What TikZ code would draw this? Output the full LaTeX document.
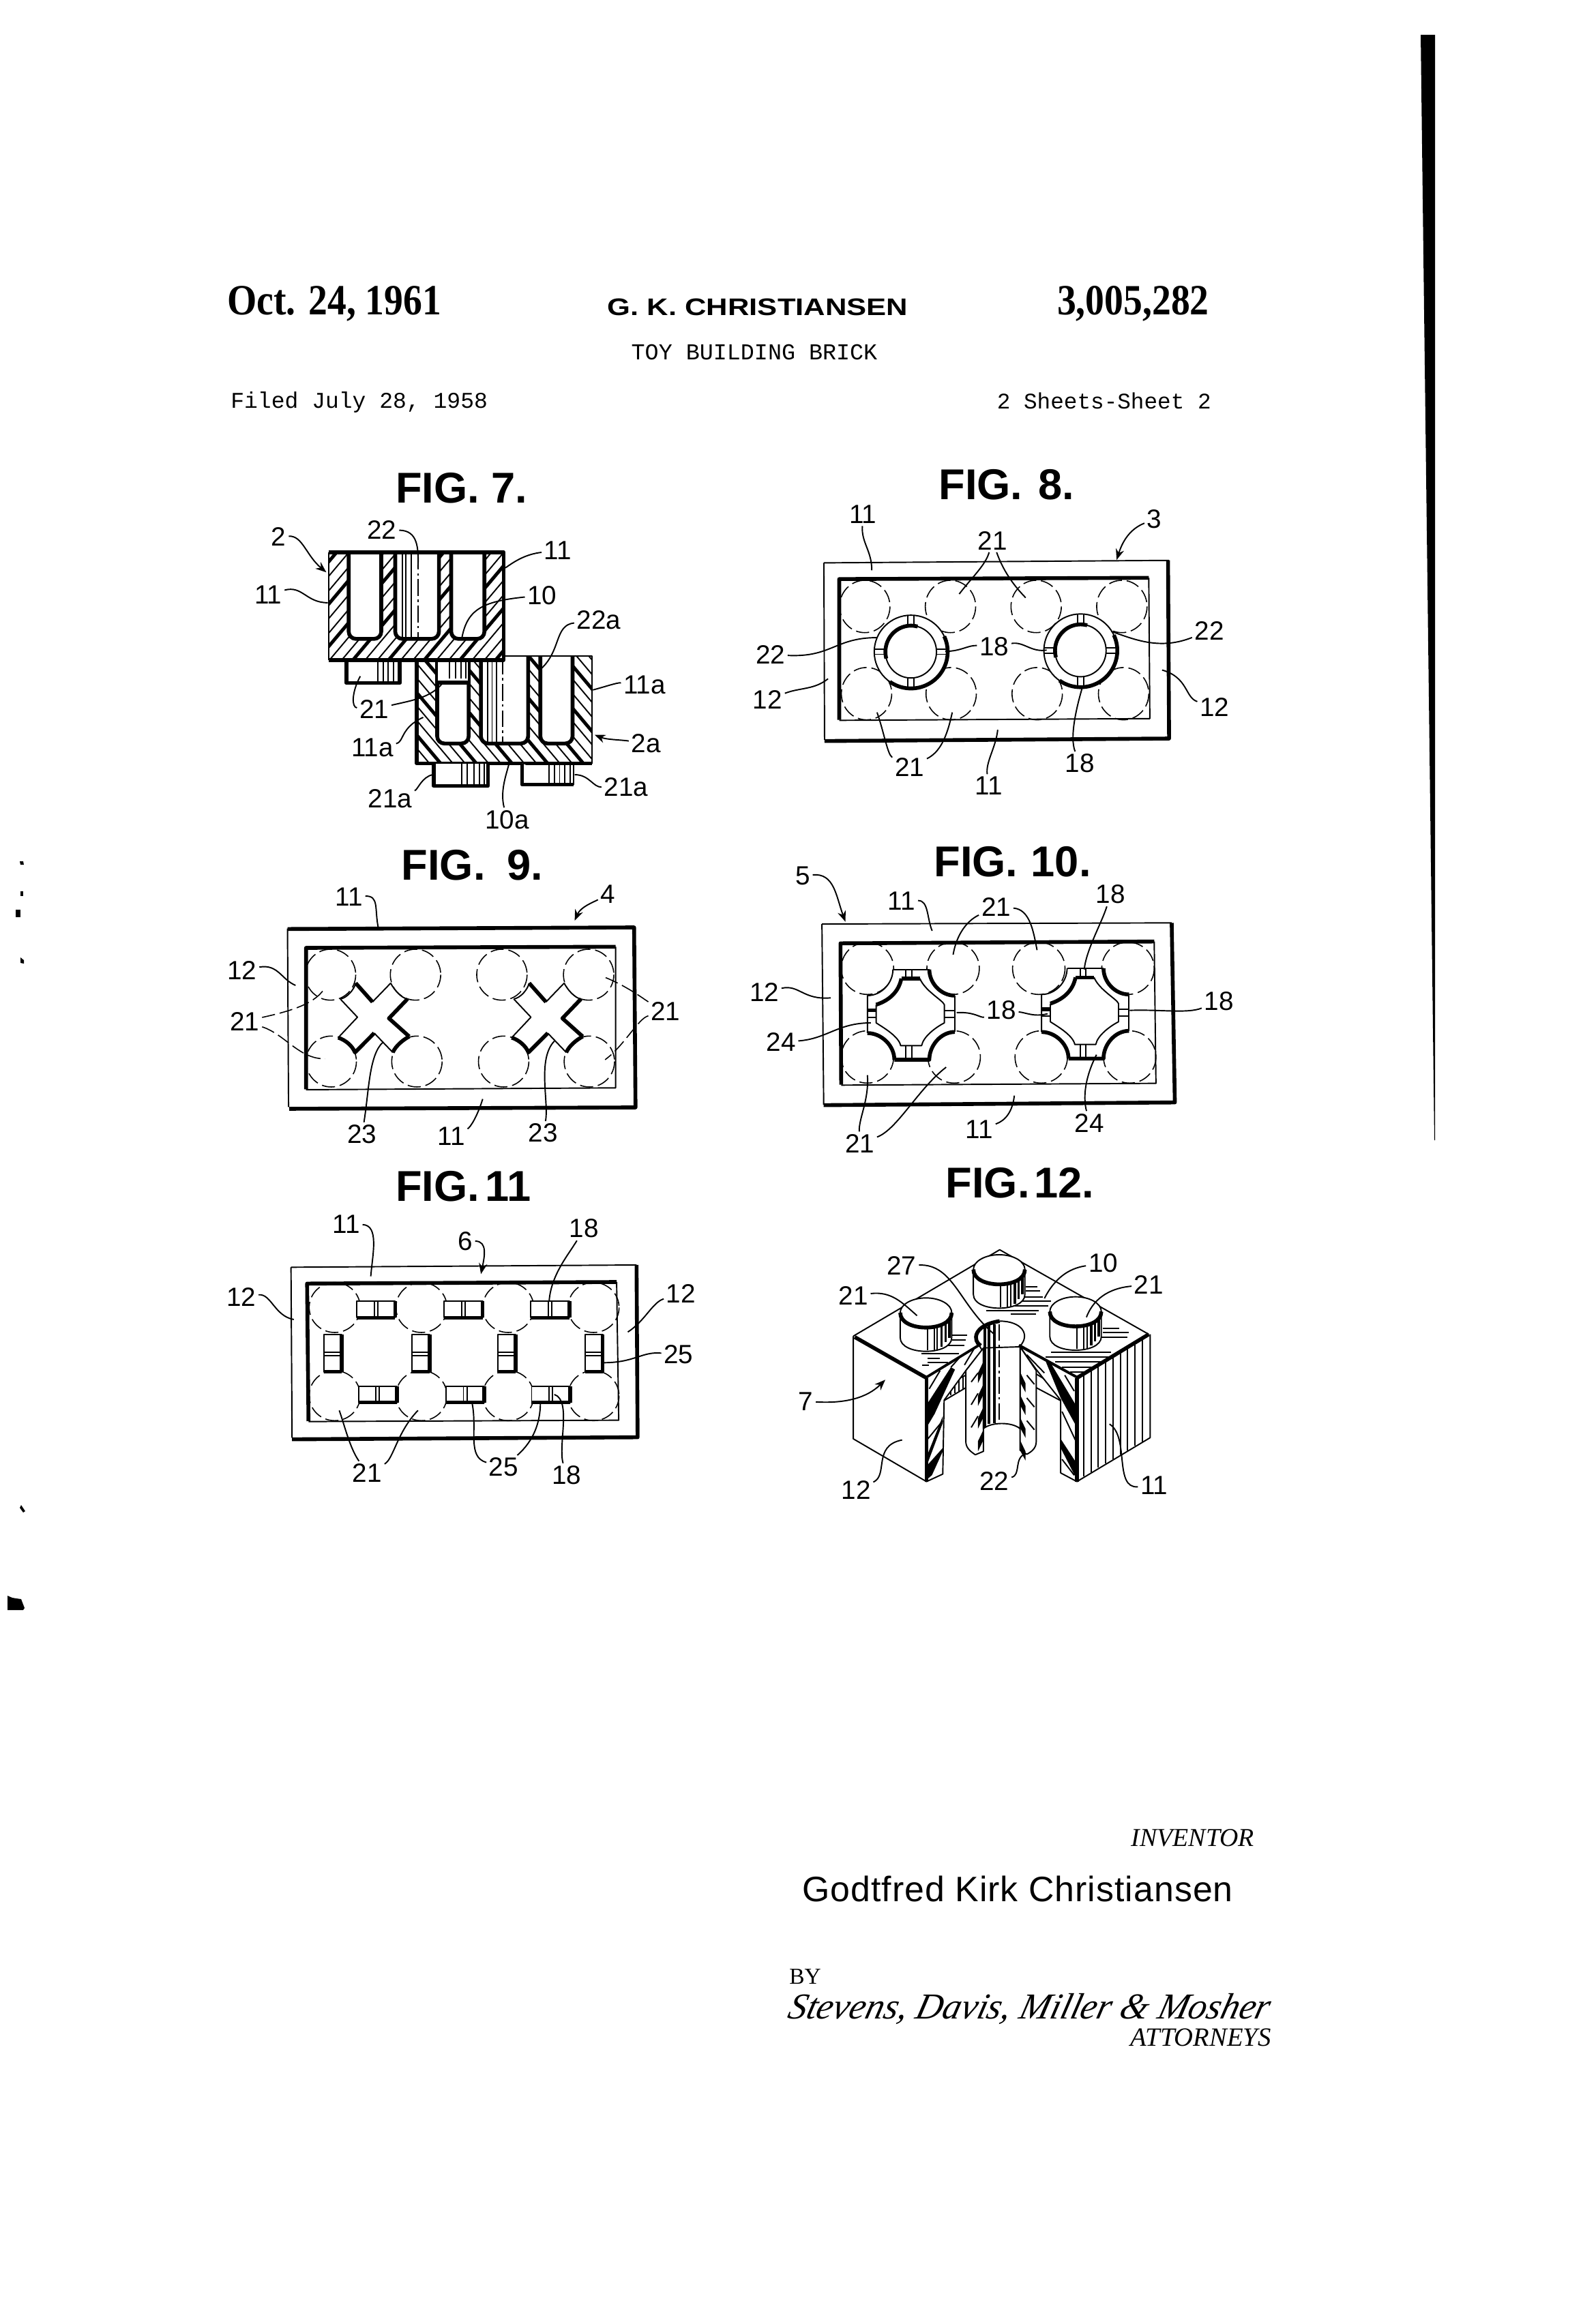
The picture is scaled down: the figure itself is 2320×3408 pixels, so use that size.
\documentclass[tikz,border=0pt]{standalone}
\usepackage{fontspec}
\setmainfont{Liberation Sans}
\newfontfamily\serifhead[BoldFeatures={FakeStretch=0.88}]{Liberation Serif}
\newfontfamily\wideh[BoldFeatures={FakeStretch=1.24}]{Liberation Sans}
\newfontfamily\namefont[LetterSpace=2]{Liberation Sans}
\newfontfamily\typewr{Liberation Mono}
\newfontfamily\signfont[ItalicFeatures={FakeSlant=0.25}]{Liberation Serif}
\usetikzlibrary{arrows.meta}
\tikzset{
  thinl/.style={line width=1.1pt},
  heavyl/.style={line width=3.2pt},
  dashl/.style={line width=0.9pt,dash pattern=on 11pt off 4pt},
  leadl/.style={line width=1.1pt},
  headl/.style={leadl,-{Stealth[length=9pt,width=7pt]}},
  lab/.style={font=\fontsize{22}{22}\selectfont,inner sep=2pt},
  figt/.style={font=\bfseries\fontsize{36}{36}\selectfont,inner sep=0pt},
}
\begin{document}
\begin{tikzpicture}[x=0.02cm,y=-0.02cm,line join=round]
\useasboundingbox (0,0) rectangle (2320,3408);
\fill (2083,51) -- (2104,51) -- (2104,1672) -- (2103,1672) -- cycle;
\fill (11,2340) -- (11,2361) -- (34,2361) -- (36,2358) -- (31,2345) -- (24,2344) -- (18,2343) -- cycle;
\fill (23,1334) -- (30,1334) -- (30,1345) -- (23,1345) -- cycle;
\fill (30,1307) -- (34,1307) -- (34,1314) -- (30,1314) -- cycle;
\fill (29,1263) -- (34,1263) -- (35,1268) -- (30,1268) -- cycle;
\fill (30,1404) -- (35,1408) -- (35,1413) -- (30,1412) -- cycle;
\fill (31,2207) -- (37,2216) -- (34,2218) -- (29,2211) -- cycle;
\node[inner sep=0pt,anchor=west,font=\serifhead\bfseries\fontsize{36}{36}\selectfont] (date) at (333,445) {Oct. 24, 1961};
\node[inner sep=0pt,anchor=east,font=\serifhead\bfseries\fontsize{36}{36}\selectfont] (patno) at (1773,445) {3,005,282};
\node[inner sep=0pt,font=\wideh\bfseries\fontsize{20}{20}\selectfont] (inv) at (1111,450) {G. K. CHRISTIANSEN};
\node[inner sep=0pt,font=\typewr\fontsize{19}{19}\selectfont] (title) at (1106,516) {TOY BUILDING BRICK};
\node[inner sep=0pt,anchor=west,font=\typewr\fontsize{18.8}{18.8}\selectfont] (filed) at (338,590) {Filed July 28, 1958};
\node[inner sep=0pt,anchor=east,font=\typewr\fontsize{18.6}{18.6}\selectfont] (sheets) at (1776,588) {2 Sheets-Sheet 2};
\node[inner sep=0pt,anchor=east,font=\serifhead\itshape\fontsize{21.5}{21.5}\selectfont] (invr) at (1839,2695) {INVENTOR};
\node[inner sep=0pt,font=\namefont\fontsize{29.5}{29.5}\selectfont] (name) at (1492,2770) {Godtfred Kirk Christiansen};
\node[inner sep=0pt,anchor=west,font=\signfont\fontsize{19}{19}\selectfont] (by) at (1157,2899) {BY};
\node[inner sep=0pt,font=\signfont\itshape\fontsize{30.5}{30.5}\selectfont] (firm) at (1506,2946) {Stevens, Davis, Miller \& Mosher};
\node[inner sep=0pt,anchor=east,font=\serifhead\itshape\fontsize{22}{22}\selectfont] (atty) at (1864,2988) {ATTORNEYS};

\begin{scope}[shift={(300,650)},xscale=0.5128,yscale=0.3654]
\node[figt] (fig7) at (735,180) {FIG. 7.};
\fill[white] (607,855) rectangle (1108,1285);
\begin{scope}
\clip (607,855) rectangle (1108,1285);
\foreach \c in {-300,-198,...,520} {
\draw[line width=2.8pt] ({\c+0.6*855},855) -- ({\c+0.6*1285},1285);
\draw[thinl] ({\c+35+0.6*855},855) -- ({\c+35+0.6*1285},1285);
\draw[thinl] ({\c+70+0.6*855},855) -- ({\c+70+0.6*1285},1285);
}
\end{scope}
\draw[heavyl] (607,870) -- (607,1285) -- (1108,1285);
\draw[thinl] (607,855) -- (1108,855) -- (1108,1285);
\draw[heavyl,fill=white,rounded corners=6pt] (665,855) -- (665,1205) -- (755,1205) -- (755,855);
\draw[heavyl,fill=white,rounded corners=6pt] (960,855) -- (960,1205) -- (1052,1205) -- (1052,855);
\draw[heavyl,fill=white,rounded corners=6pt] (790,855) -- (790,1205) -- (925,1205) -- (925,855);
\draw[thinl] (665,855) -- (755,855) (790,855) -- (925,855) (960,855) -- (1052,855);
\foreach \x in {810,822,835} { \draw[thinl] (\x,860) -- (\x,1200); }
\draw[thinl,dash pattern=on 14pt off 3pt on 2pt off 3pt] (852,860) -- (852,1200);
\draw[heavyl,fill=white] (405,870) rectangle (558,962);
\foreach \x in {495,510,525,540} { \draw[thinl] (\x,872) -- (\x,960); }
\draw[thinl,fill=white] (665,870) rectangle (755,960);
\draw[heavyl] (665,960) -- (755,960);
\foreach \x in {700,718,733,746} { \draw[thinl] (\x,872) -- (\x,945); }
\fill[white] (355,437) rectangle (855,870);
\begin{scope}
\clip (355,437) rectangle (855,870);
\foreach \c in {640,742,...,1400} {
\draw[line width=2.8pt] ({\c-0.6*437},437) -- ({\c-0.6*870},870);
\draw[thinl] ({\c+35-0.6*437},437) -- ({\c+35-0.6*870},870);
\draw[thinl] ({\c+70-0.6*437},437) -- ({\c+70-0.6*870},870);
}
\end{scope}
\draw[heavyl] (355,870) -- (855,870) -- (855,437) -- (355,437);
\draw[thinl] (355,437) -- (355,870);
\draw[heavyl,fill=white,rounded corners=6pt] (412,437) -- (412,785) -- (505,785) -- (505,437);
\draw[heavyl,fill=white,rounded corners=6pt] (705,437) -- (705,785) -- (800,785) -- (800,437);
\draw[heavyl,fill=white,rounded corners=6pt] (545,437) -- (545,785) -- (670,785) -- (670,437);
\draw[heavyl] (355,437) -- (855,437);
\foreach \x in {565,575,590} { \draw[thinl] (\x,440) -- (\x,780); }
\draw[thinl,dash pattern=on 14pt off 3pt on 2pt off 3pt] (610,440) -- (610,780);
\draw[heavyl,fill=white] (655,1285) -- (655,1375) -- (810,1375) -- (810,1285);
\draw[heavyl,fill=white] (908,1285) -- (908,1370) -- (1055,1370);
\draw[thinl] (1055,1370) -- (1055,1285);
\foreach \x in {735,750,770,785,800} { \draw[thinl] (\x,1287) -- (\x,1370); }
\foreach \x in {985,1000,1015,1030,1045} { \draw[thinl] (\x,1287) -- (\x,1365); }
\node[lab] (a2) at (212,375) {2}; \coordinate (p2) at (348,518);
\draw[headl] (a2) .. controls (280,370) and (290,450) .. (p2);
\node[lab] (a22) at (507,348) {22}; \coordinate (p22) at (610,500);
\draw[leadl] (a22) .. controls (610,350) and (612,420) .. (p22);
\node[lab] (a11l) at (182,607) {11}; \coordinate (p11l) at (352,640);
\draw[leadl] (a11l) .. controls (280,570) and (290,640) .. (p11l);
\node[lab] (a11r) at (1010,430) {11}; \coordinate (p11r) at (860,500);
\draw[leadl] (a11r) .. controls (920,445) and (890,470) .. (p11r);
\node[lab] (a10) at (965,610) {10}; \coordinate (p10) at (735,785);
\draw[leadl] (a10) .. controls (790,635) and (750,670) .. (p10);
\node[lab] (a22a) at (1127,710) {22a}; \coordinate (p22a) at (962,905);
\draw[leadl] (a22a) .. controls (1000,730) and (1020,830) .. (p22a);
\node[lab] (a21) at (485,1067) {21}; \coordinate (p21a) at (685,955); \coordinate (p21b) at (445,935);
\draw[leadl] (a21) .. controls (600,1030) and (650,1020) .. (p21a);
\draw[leadl] (a21) .. controls (420,1060) and (420,1000) .. (p21b);
\node[lab] (a11a) at (480,1222) {11a}; \coordinate (p11a) at (625,1100);
\draw[leadl] (a11a) .. controls (570,1200) and (560,1140) .. (p11a);
\node[lab] (a11b) at (1258,970) {11a}; \coordinate (p11b) at (1110,990);
\draw[leadl] (a11b) .. controls (1180,960) and (1150,975) .. (p11b);
\node[lab] (a2a) at (1262,1205) {2a}; \coordinate (p2a) at (1115,1170);
\draw[headl] (a2a) .. controls (1190,1190) and (1150,1190) .. (p2a);
\node[lab] (a21l) at (530,1425) {21a}; \coordinate (p21l) at (652,1330);
\draw[leadl] (a21l) .. controls (610,1390) and (620,1340) .. (p21l);
\node[lab] (a21r) at (1205,1380) {21a}; \coordinate (p21r) at (1058,1330);
\draw[leadl] (a21r) .. controls (1110,1380) and (1100,1330) .. (p21r);
\node[lab] (a10a) at (865,1510) {10a}; \coordinate (p10a) at (870,1288);
\draw[leadl] (a10a) .. controls (845,1400) and (860,1340) .. (p10a);
\end{scope}

\begin{scope}[shift={(1050,650)},xscale=0.5128,yscale=0.3654]
\node[figt] (fig8) at (830,165) {FIG.\kern13pt 8.};
\foreach \cx/\cy in {425/655,670/655,915/655,1160/655,430/1005,672/1005,918/1005,1165/1005} {
\draw[dashl] (\cx,\cy) ellipse [x radius=72,y radius=105];
}
\draw[thinl] (308,480) -- (1295,470);
\draw[thinl] (308,480) -- (310,1190);
\draw[heavyl] (1292,470) -- (1295,1185) -- (310,1195);
\draw[heavyl] (352,1110) -- (352,545) -- (1237,540);
\draw[thinl] (352,1112) -- (1240,1105) -- (1237,540);
\foreach \cx/\cy in {557/837,1042/832} {
\begin{scope}[shift={(\cx,\cy)}]
\draw[thinl,fill=white] (0,0) ellipse [x radius=105,y radius=147];
\draw[thinl] (0,0) ellipse [x radius=73,y radius=105];
\draw[heavyl] plot[domain=-25:125,samples=40] ({105*cos(\x)},{147*sin(\x)});
\draw[heavyl] plot[domain=165:285,samples=40] ({73*cos(\x)},{105*sin(\x)});
\draw[thinl] (-9,-145) -- (-9,-105) (9,-145) -- (9,-105) (-9,105) -- (-9,145) (9,105) -- (9,145);
\draw[thinl] (-104,-10) -- (-72,-10) (-104,10) -- (-72,10) (72,-10) -- (104,-10) (72,10) -- (104,10);
\end{scope}
}
\node[lab] (b11) at (420,285) {11}; \coordinate (q11) at (445,510);
\draw[leadl] (b11) .. controls (415,400) and (445,430) .. (q11);
\node[lab] (b3) at (1253,305) {3}; \coordinate (q3) at (1145,468);
\draw[headl] (b3) .. controls (1190,340) and (1165,380) .. (q3);
\node[lab] (b21) at (790,390) {21}; \coordinate (q21a) at (695,605); \coordinate (q21b) at (885,620);
\draw[leadl] (b21) .. controls (770,490) and (730,540) .. (q21a);
\draw[leadl] (b21) .. controls (820,510) and (850,570) .. (q21b);
\node[lab] (b22l) at (155,848) {22}; \coordinate (q22l) at (460,780);
\draw[leadl] (b22l) .. controls (330,860) and (340,780) .. (q22l);
\node[lab] (b18) at (795,815) {18}; \coordinate (q18a) at (655,835); \coordinate (q18b) at (945,830);
\draw[leadl] (b18) .. controls (720,810) and (700,835) .. (q18a);
\draw[leadl] (b18) .. controls (880,795) and (900,840) .. (q18b);
\node[lab] (b22r) at (1410,752) {22}; \coordinate (q22r) at (1130,755);
\draw[leadl] (b22r) .. controls (1270,830) and (1200,790) .. (q22r);
\node[lab] (b12l) at (147,1030) {12}; \coordinate (q12l) at (320,945);
\draw[leadl] (b12l) .. controls (240,980) and (280,990) .. (q12l);
\node[lab] (b12r) at (1425,1060) {12}; \coordinate (q12r) at (1275,910);
\draw[leadl] (b12r) .. controls (1340,1020) and (1350,940) .. (q12r);
\node[lab] (b21b) at (553,1300) {21}; \coordinate (q21c) at (460,1080); \coordinate (q21d) at (675,1080);
\draw[leadl] (b21b) .. controls (490,1250) and (480,1160) .. (q21c);
\draw[leadl] (b21b) .. controls (640,1240) and (660,1180) .. (q21d);
\node[lab] (b18b) at (1040,1285) {18}; \coordinate (q18c) at (1048,975);
\draw[leadl] (b18b) .. controls (1010,1180) and (1030,1060) .. (q18c);
\node[lab] (b11b) at (780,1375) {11}; \coordinate (q11b) at (805,1150);
\draw[leadl] (b11b) .. controls (770,1280) and (800,1220) .. (q11b);
\end{scope}

\begin{scope}[shift={(300,1200)},xscale=0.5128,yscale=0.3333]
\node[figt] (fig9) at (765,205) {FIG.\kern18pt 9.};
\foreach \cx/\cy in {360/688,603/688,850/688,1098/688,362/1070,607/1070,855/1070,1100/1070} {
\draw[dashl] (\cx,\cy) ellipse [x radius=72,y radius=112];
}
\draw[thinl] (237,485) -- (240,1270);
\draw[heavyl] (237,487) -- (1228,480) -- (1232,1272) -- (242,1278);
\draw[heavyl] (290,1192) -- (290,570) -- (1175,565);
\draw[thinl] (290,1194) -- (1175,1186) -- (1175,565);
\foreach \cx/\cy in {482/880,978/880} {
\begin{scope}[shift={(\cx,\cy)}]
\path[fill=white] (-2,-72) -- (50,-155) .. controls (65,-125) and (80,-90) .. (98,-85) -- (45,0) -- (103,80) .. controls (85,95) and (65,120) .. (56,150) -- (3,65) -- (-52,150) .. controls (-60,120) and (-80,95) .. (-100,85) -- (-45,-5) -- (-94,-85) .. controls (-75,-90) and (-55,-125) .. (-50,-155) -- cycle;
\draw[heavyl] (98,-85) -- (45,0) -- (103,80);
\draw[heavyl] (-50,-155) -- (-2,-72);
\draw[thinl] (-2,-72) -- (50,-155);
\draw[thinl] (50,-155) .. controls (60,-125) and (80,-90) .. (98,-85);
\draw[thinl] (-94,-85) -- (-45,-5) -- (-100,85);
\draw[thinl] (-94,-85) .. controls (-75,-90) and (-55,-125) .. (-50,-155);
\draw[heavyl] (-100,85) .. controls (-80,95) and (-60,120) .. (-52,150) -- (3,65);
\draw[heavyl] (103,80) .. controls (85,95) and (65,120) .. (56,150);
\draw[thinl] (3,65) -- (56,150);
\end{scope}
}
\node[lab] (c11) at (413,345) {11}; \coordinate (r11) at (497,485);
\draw[leadl] (c11) .. controls (500,340) and (485,400) .. (r11);
\node[lab] (c4) at (1153,335) {4}; \coordinate (r4) at (1058,450);
\draw[headl] (c4) .. controls (1110,370) and (1075,390) .. (r4);
\node[lab] (c12) at (107,668) {12}; \coordinate (r12) at (260,735);
\draw[leadl] (c12) .. controls (210,640) and (220,710) .. (r12);
\node[lab] (c21l) at (115,893) {21}; \coordinate (r21a) at (340,755); \coordinate (r21b) at (345,1058);
\draw[dashl] (c21l) .. controls (240,850) and (310,820) .. (r21a);
\draw[dashl] (c21l) .. controls (230,950) and (270,1060) .. (r21b);
\node[lab] (c21r) at (1318,850) {21}; \coordinate (r21c) at (1145,700); \coordinate (r21d) at (1145,1062);
\draw[dashl] (c21r) .. controls (1260,800) and (1210,740) .. (r21c);
\draw[dashl] (c21r) .. controls (1240,880) and (1200,1000) .. (r21d);
\node[lab] (c23a) at (450,1390) {23}; \coordinate (r23a) at (510,985);
\draw[leadl] (c23a) .. controls (470,1200) and (470,1040) .. (r23a);
\node[lab] (c23b) at (968,1385) {23}; \coordinate (r23b) at (1000,980);
\draw[leadl] (c23b) .. controls (985,1250) and (950,1060) .. (r23b);
\node[lab] (c11b) at (705,1400) {11}; \coordinate (r11b) at (795,1235);
\draw[leadl] (c11b) .. controls (760,1360) and (780,1310) .. (r11b);
\end{scope}

\begin{scope}[shift={(1100,1200)},xscale=0.5128,yscale=0.3333]
\node[figt] (fig10) at (750,190) {FIG.\kern11pt 10.};
\foreach \cx/\cy in {335/660,580/660,825/660,1080/660,335/1050,583/1050,832/1050,1085/1050} {
\draw[dashl] (\cx,\cy) ellipse [x radius=75,y radius=115];
}
\draw[thinl] (205,465) -- (1205,460) (205,465) -- (210,1260);
\draw[heavyl] (1205,460) -- (1214,1250) -- (210,1262);
\draw[heavyl] (260,1172) -- (258,550) -- (1155,542);
\draw[thinl] (260,1174) -- (1160,1166) -- (1155,542);
\foreach \cx/\cy in {460/860,958/855} {
\begin{scope}[shift={(\cx,\cy)}]
\path[fill=white] (-52,-195) -- (52,-195) .. controls (52,-135) and (85,-80) .. (125,-80) -- (125,80) .. controls (85,80) and (52,140) .. (52,202) -- (-48,202) .. controls (-48,140) and (-85,85) .. (-125,85) -- (-125,-80) .. controls (-85,-80) and (-52,-135) .. (-52,-195) -- cycle;
\draw[thinl] (-52,-195) -- (52,-195);
\draw[heavyl] (52,-195) .. controls (52,-135) and (85,-80) .. (125,-80);
\draw[thinl] (125,-80) -- (125,80);
\draw[heavyl] (125,80) .. controls (85,80) and (52,140) .. (52,202) -- (-48,202);
\draw[heavyl] (-48,202) .. controls (-48,140) and (-85,85) .. (-125,85);
\draw[thinl] (-125,85) -- (-125,-80) .. controls (-85,-80) and (-52,-135) .. (-52,-195);
\draw[heavyl] (-28,-155) -- (25,-155);
\draw[thinl] (25,-155) .. controls (40,-100) and (90,-60) .. (95,-40) -- (95,40) .. controls (70,60) and (35,100) .. (30,140) -- (-30,140) .. controls (-35,100) and (-80,60) .. (-100,40) -- (-100,-40);
\draw[heavyl] (-100,-40) .. controls (-60,-60) and (-35,-100) .. (-28,-155);
\draw[thinl] (-15,-195) -- (-15,-155) (2,-195) -- (2,-155) (-15,140) -- (-15,202) (2,140) -- (2,202);
\draw[thinl] (95,-15) -- (125,-15) (95,15) -- (125,15);
\draw[heavyl] (-125,-15) -- (-100,-15);
\draw[thinl] (-125,15) -- (-100,15);
\end{scope}
}
\node[lab] (d5) at (150,253) {5}; \coordinate (s5) at (272,455);
\draw[headl] (d5) .. controls (240,240) and (245,340) .. (s5);
\node[lab] (d11) at (433,365) {11}; \coordinate (s11) at (520,495);
\draw[leadl] (d11) .. controls (510,360) and (505,440) .. (s11);
\node[lab] (d21) at (703,390) {21}; \coordinate (s21a) at (580,600); \coordinate (s21b) at (820,580);
\draw[leadl] (d21) .. controls (620,450) and (590,510) .. (s21a);
\draw[leadl] (d21) .. controls (800,400) and (810,500) .. (s21b);
\node[lab] (d18t) at (1030,335) {18}; \coordinate (s18t) at (955,665);
\draw[leadl] (d18t) .. controls (1005,460) and (960,580) .. (s18t);
\node[lab] (d12) at (40,765) {12}; \coordinate (s12) at (230,790);
\draw[leadl] (d12) .. controls (140,730) and (150,800) .. (s12);
\node[lab] (d18c) at (718,845) {18}; \coordinate (s18a) at (590,855); \coordinate (s18b) at (850,860);
\draw[leadl] (d18c) .. controls (660,880) and (640,850) .. (s18a);
\draw[leadl] (d18c) .. controls (790,855) and (810,875) .. (s18b);
\node[lab] (d18r) at (1340,805) {18}; \coordinate (s18r) at (1085,845);
\draw[leadl] (d18r) .. controls (1250,860) and (1170,840) .. (s18r);
\node[lab] (d24l) at (88,985) {24}; \coordinate (s24l) at (345,900);
\draw[leadl] (d24l) .. controls (220,970) and (250,900) .. (s24l);
\node[lab] (d21b) at (313,1430) {21}; \coordinate (s21c) at (335,1130); \coordinate (s21d) at (560,1095);
\draw[leadl] (d21b) .. controls (310,1320) and (340,1240) .. (s21c);
\draw[leadl] (d21b) .. controls (420,1370) and (480,1190) .. (s21d);
\node[lab] (d24r) at (970,1340) {24}; \coordinate (s24r) at (990,1040);
\draw[leadl] (d24r) .. controls (950,1220) and (960,1130) .. (s24r);
\node[lab] (d11b) at (655,1370) {11}; \coordinate (s11b) at (755,1220);
\draw[leadl] (d11b) .. controls (730,1330) and (750,1290) .. (s11b);
\end{scope}

\begin{scope}[shift={(300,1680)},xscale=0.5128,yscale=0.3333]
\node[figt] (fig11) at (740,180) {FIG.\kern5pt 1\kern-2pt 1};
\foreach \cx/\cy in {372/712,620/712,868/712,1112/712,372/1100,620/1100,868/1100,1112/1100} {
\draw[dashl] (\cx,\cy) ellipse [x radius=73,y radius=110];
}
\draw[thinl] (247,535) -- (1235,525) (247,535) -- (250,1285);
\draw[heavyl] (1235,525) -- (1238,1283) -- (250,1292);
\draw[heavyl] (297,1212) -- (293,607) -- (1178,600);
\draw[thinl] (297,1214) -- (1184,1208) -- (1178,600);
\foreach \cx/\cy in {490/685,740/685,988/685,495/1058,745/1058,990/1058} {
\begin{scope}[shift={(\cx,\cy)}]
\draw[thinl,fill=white] (-55,0) rectangle (55,72);
\draw[heavyl] (-55,72) -- (55,72);
\draw[heavyl] (55,0) -- (55,72);
\draw[thinl] (-5,0) -- (-5,72) (5,0) -- (5,72);
\end{scope}
}
\foreach \cx/\cy in {367/830,618/830,864/830,1113/830} {
\begin{scope}[shift={(\cx,\cy)}]
\draw[thinl,fill=white] (-25,0) rectangle (25,165);
\draw[heavyl] (-25,165) -- (25,165);
\draw[heavyl] (25,0) -- (25,165);
\draw[thinl] (-25,80) -- (25,80) (-25,95) -- (25,95);
\end{scope}
}
\node[lab] (e11) at (405,345) {11}; \coordinate (u11) at (475,575);
\draw[leadl] (e11) .. controls (500,350) and (480,480) .. (u11);
\node[lab] (e6) at (745,420) {6}; \coordinate (u6) at (790,565);
\draw[headl] (e6) .. controls (810,420) and (800,490) .. (u6);
\node[lab] (e18) at (1085,365) {18}; \coordinate (u18) at (985,685);
\draw[leadl] (e18) .. controls (1040,480) and (990,570) .. (u18);
\node[lab] (e12l) at (105,665) {12}; \coordinate (u12l) at (255,765);
\draw[leadl] (e12l) .. controls (190,650) and (200,750) .. (u12l);
\node[lab] (e12r) at (1362,650) {12}; \coordinate (u12r) at (1210,820);
\draw[leadl] (e12r) .. controls (1280,690) and (1260,770) .. (u12r);
\node[lab] (e25r) at (1355,920) {25}; \coordinate (u25r) at (1140,955);
\draw[leadl] (e25r) .. controls (1250,905) and (1230,955) .. (u25r);
\node[lab] (e21) at (465,1440) {21}; \coordinate (u21a) at (385,1165); \coordinate (u21b) at (610,1165);
\draw[leadl] (e21) .. controls (415,1330) and (400,1230) .. (u21a);
\draw[leadl] (e21) .. controls (540,1380) and (550,1260) .. (u21b);
\node[lab] (e25) at (855,1415) {25}; \coordinate (u25a) at (765,1135); \coordinate (u25b) at (960,1130);
\draw[leadl] (e25) .. controls (750,1370) and (780,1250) .. (u25a);
\draw[leadl] (e25) .. controls (940,1300) and (960,1220) .. (u25b);
\node[lab] (e18b) at (1035,1450) {18}; \coordinate (u18b) at (1000,1095);
\draw[leadl] (e18b) .. controls (1010,1320) and (1050,1120) .. (u18b);
\end{scope}

\begin{scope}[shift={(1120,1680)},xscale=0.3974,yscale=0.3333]
\node[figt] (fig12) at (945,165) {FIG.\kern4pt 12.};
\draw[thinl] (330,838) -- (870,458) -- (1420,830);
\draw[heavyl] (335,842) -- (600,1022) -- (795,880);
\draw[thinl] (330,838) -- (330,1290) -- (600,1478);
\draw[thinl] (1425,830) -- (1425,1285) -- (1155,1478);
\draw[heavyl] (940,880) -- (1155,1022) -- (1420,830);
\foreach \x in {1180,1207,...,1410} {
\draw[thinl] (\x,{1022-(\x-1155)*0.71+5}) -- (\x,{1478-(\x-1155)*0.71-5});
}
\draw[thinl] (1040,930) -- (1290,930) (1075,950) -- (1262,950) (1100,975) -- (1225,975) (1130,995) -- (1190,995);
\draw[thinl] (1060,908) -- (1280,908) (1250,805) -- (1310,805) (1250,822) -- (1345,822) (1240,842) -- (1340,842);
\draw[thinl] (965,620) -- (1010,620) (965,640) -- (1020,640) (950,665) -- (1030,665) (950,685) -- (1060,685) (925,705) -- (1050,705) (820,725) -- (1015,725) (910,742) -- (1005,742);
\draw[thinl] (695,835) -- (750,835) (695,855) -- (745,855) (680,878) -- (740,878) (580,915) -- (720,915) (605,935) -- (650,935) (605,955) -- (680,955) (585,965) -- (610,965);
\foreach \cx/\cy in {868/545,598/735,1150/730} {
\begin{scope}[shift={(\cx,\cy)}]
\draw[thinl,fill=white] (-95,0) -- (-95,110) .. controls (-95,190) and (95,190) .. (95,110) -- (95,0) -- cycle;
\draw[thinl,fill=white] (0,0) ellipse [x radius=95,y radius=65];
\draw[heavyl] (-95,0) .. controls (-95,87) and (95,87) .. (95,0);
\draw[thinl] (5,65) -- (5,165);
\foreach \x in {30,42} { \draw[thinl] (\x,62) -- (\x,165); }
\draw[line width=2pt] (58,60) -- (58,150) (72,50) -- (72,130) (86,35) -- (86,110);
\end{scope}
}
\draw[thinl,fill=white] (660,1125) -- (745,1065) -- (745,1010) -- (660,1060) -- cycle;
\foreach \x in {675,690,705,720,735} { \draw[thinl] (\x,{1055-(\x-660)*0.55}) -- (\x,{1115-(\x-660)*0.55}); }
\draw[thinl] (1005,1005) -- (1095,1070) (1005,1065) -- (1095,1122);
\draw[thinl,fill=white] (600,1022) -- (795,880) -- (805,900) -- (745,990) -- (665,1120) -- (660,1445) -- (600,1478) -- cycle;
\fill (595,1150) -- (690,975) -- (705,985) -- (630,1180) -- (600,1240) -- cycle;
\fill (600,1370) -- (660,1190) -- (660,1220) -- (605,1395) -- cycle;
\fill (600,1470) -- (600,1410) -- (660,1330) -- (660,1345) -- (620,1450) -- cycle;
\draw[thinl] (610,1070) -- (650,990) (720,935) -- (690,975) (740,965) -- (775,895) (605,1290) -- (660,1210) (610,1430) -- (655,1345);
\draw[thinl,fill=white] (945,885) -- (1155,1022) -- (1155,1478) -- (1095,1440) -- (1095,1120) -- (1005,985) -- cycle;
\fill (1040,950) -- (1060,960) -- (1150,1140) -- (1155,1240) -- (1095,1110) -- cycle;
\fill (1095,1290) -- (1155,1400) -- (1155,1470) -- (1095,1330) -- cycle;
\draw[thinl] (1100,1170) -- (1155,1310) (1100,1380) -- (1145,1450) (970,920) -- (1035,1000) (1110,1010) -- (1145,1080);
\draw[heavyl] (1155,1022) -- (1155,1478);
\draw[heavyl] (600,1022) -- (600,1478);
\draw[thinl,fill=white] (745,990) -- (745,1300) .. controls (745,1325) and (755,1340) .. (780,1360) -- (810,1345) -- (810,890) -- cycle;
\draw[thinl,fill=white] (945,885) -- (945,1340) -- (970,1358) .. controls (990,1345) and (1005,1330) .. (1005,1300) -- (1005,990) -- cycle;
\foreach \y in {1000,1100,1200,1300} {
\fill (790,\y) -- (808,{\y-45}) -- (808,\y) -- (790,{\y+45}) -- cycle;
\fill (947,\y) -- (965,{\y+45}) -- (965,{\y+85}) -- (947,{\y+45}) -- cycle;
}
\draw[thinl] (765,1040) -- (790,1000) (765,1140) -- (790,1090) (765,1240) -- (790,1190) (970,1010) -- (998,1050) (970,1110) -- (998,1150) (970,1210) -- (998,1250);
\draw[thinl,fill=white] (810,890) -- (810,1245) .. controls (840,1215) and (915,1215) .. (945,1245) -- (945,885) -- cycle;
\draw[heavyl,fill=white] (800,880) .. controls (770,860) and (770,790) .. (870,772);
\draw[thinl] (870,772) .. controls (950,772) and (985,830) .. (945,882);
\draw[line width=2pt] (815,800) -- (815,1240) (830,790) -- (830,1225) (850,785) -- (850,1220);
\draw[thinl,dash pattern=on 14pt off 3pt on 2pt off 3pt] (868,785) -- (868,1220);
\node[lab] (f27) at (508,528) {27}; \coordinate (v27) at (850,830);
\draw[leadl] (f27) .. controls (700,520) and (720,700) .. (v27);
\node[lab] (f21l) at (330,660) {21}; \coordinate (v21l) at (565,748);
\draw[leadl] (f21l) .. controls (470,640) and (510,690) .. (v21l);
\node[lab] (f10) at (1252,518) {10}; \coordinate (v10) at (1035,672);
\draw[leadl] (f10) .. controls (1120,540) and (1070,590) .. (v10);
\node[lab] (f21r) at (1420,612) {21}; \coordinate (v21r) at (1190,755);
\draw[leadl] (f21r) .. controls (1290,625) and (1220,660) .. (v21r);
\node[lab] (f7) at (155,1125) {7}; \coordinate (v7) at (448,1030);
\draw[headl] (f7) .. controls (300,1135) and (380,1110) .. (v7);
\node[lab] (f12) at (340,1515) {12}; \coordinate (v12) at (510,1295);
\draw[leadl] (f12) .. controls (460,1450) and (400,1320) .. (v12);
\node[lab] (f22) at (850,1475) {22}; \coordinate (v22) at (968,1355);
\draw[leadl] (f22) .. controls (950,1450) and (920,1370) .. (v22);
\node[lab] (f11) at (1440,1495) {11}; \coordinate (v11) at (1275,1225);
\draw[leadl] (f11) .. controls (1290,1510) and (1350,1280) .. (v11);
\end{scope}
\end{tikzpicture}
\end{document}
